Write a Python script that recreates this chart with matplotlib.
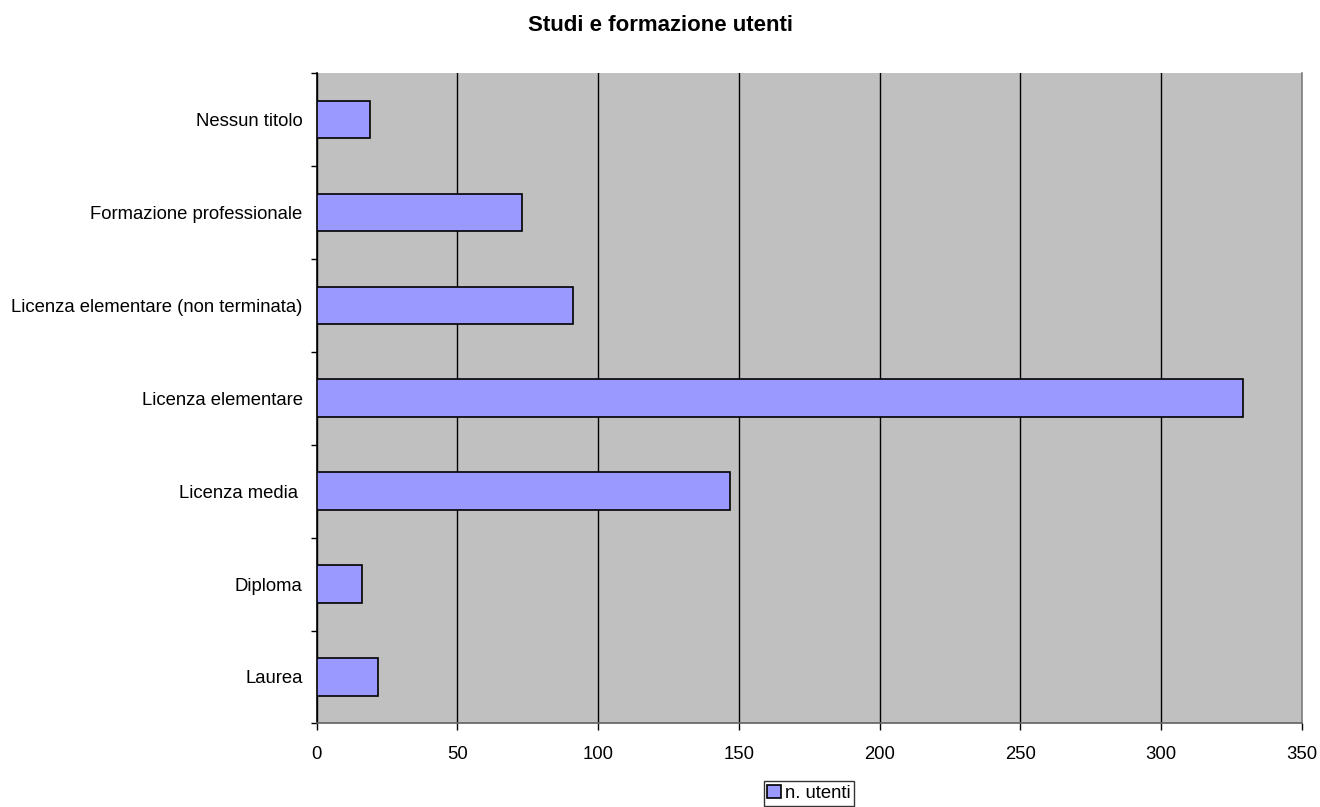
import numpy as np
import matplotlib
matplotlib.use("Agg")
import matplotlib.pyplot as plt

plt.rcParams["font.family"] = ["Liberation Sans", "DejaVu Sans"]

categories = [
    "Nessun titolo",
    "Formazione professionale",
    "Licenza elementare (non terminata)",
    "Licenza elementare",
    "Licenza media ",
    "Diploma",
    "Laurea",
]
utenti = [19, 73, 91, 329, 147, 16, 22]
x_ticks = [0, 50, 100, 150, 200, 250, 300, 350]

fig = plt.figure(figsize=(13.2, 8.07), dpi=100)
ax = fig.add_axes([0.2398, 0.1035, 0.7466, 0.8064])
ax.set_facecolor("#C0C0C0")

pos = np.arange(len(categories))
ax.barh(pos, utenti, height=0.4, color="#9999FF", edgecolor="black",
        linewidth=1.2, label="n. utenti", zorder=3)

ax.set_xlim(0, 350)
ax.set_ylim(len(categories) - 0.5, -0.5)
ax.set_xticks(x_ticks)
ax.set_xticklabels([str(v) for v in x_ticks], fontsize=13.3)
ax.set_yticks(pos)
ax.set_yticklabels(categories, fontsize=13.3)
ax.set_yticks(np.arange(len(categories) + 1) - 0.5, minor=True)
ax.tick_params(axis="y", which="major", length=0, pad=10)
ax.tick_params(axis="y", which="minor", length=4, width=1, direction="out")
ax.tick_params(axis="x", length=5, width=1, direction="out", pad=11)

ax.grid(axis="x", color="black", linewidth=1, zorder=1)
ax.set_axisbelow(True)

ax.spines["top"].set_visible(False)
ax.spines["left"].set_color("black")
ax.spines["right"].set_color("#808080")
ax.spines["bottom"].set_color("#606060")
for s in ax.spines.values():
    s.set_linewidth(1.2)

fig.suptitle("Studi e formazione utenti", fontsize=16, fontweight="bold",
             x=0.5, y=0.982)

fig.legend(loc="upper center", bbox_to_anchor=(809 / 1320, 1 - 781 / 807),
           fontsize=13.3, frameon=True, fancybox=False, edgecolor="black",
           handlelength=0.75, handleheight=0.75, handletextpad=0.2,
           borderpad=0.2, borderaxespad=0)

fig.savefig("out.png", dpi=100)
